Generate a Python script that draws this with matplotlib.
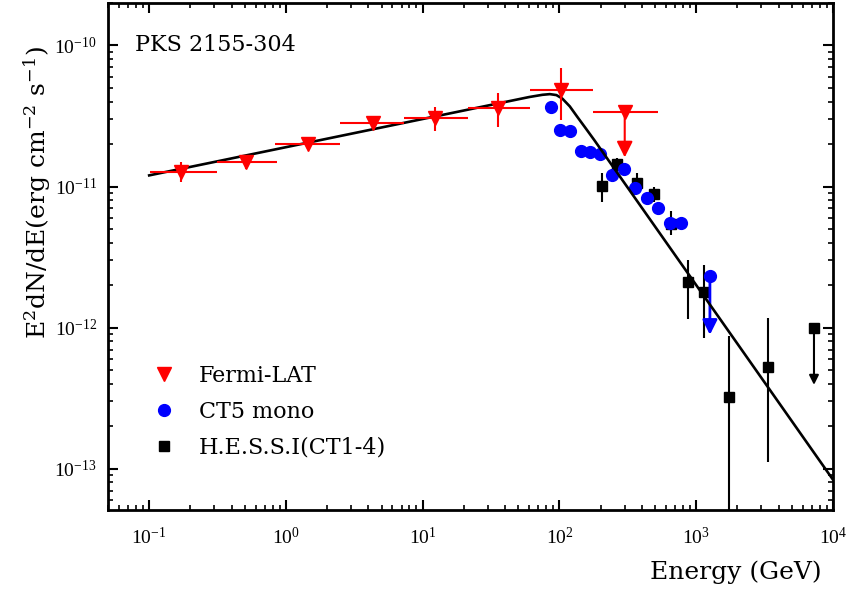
import matplotlib
matplotlib.use('Agg')
import matplotlib.pyplot as plt
from matplotlib.ticker import LogLocator, NullFormatter, FixedLocator
from matplotlib.lines import Line2D

plt.rcParams['font.family'] = ['DejaVu Serif', 'Noto Sans CJK SC']
plt.rcParams['mathtext.fontset'] = 'custom'
plt.rcParams['mathtext.rm'] = 'DejaVu Serif'
plt.rcParams['mathtext.it'] = 'DejaVu Serif:italic'

# Fermi-LAT (GeV, erg cm-2 s-1)
fermi_e = [0.171, 0.51, 1.46, 4.3, 12.4, 35.3, 103]
fermi_elo = [0.102, 0.315, 0.836, 2.5, 7.36, 21.3, 60.5]
fermi_ehi = [0.315, 0.865, 2.5, 7.36, 21.3, 60.5, 175]
fermi_f = [1.27e-11, 1.49e-11, 1.99e-11, 2.82e-11, 3.04e-11, 3.58e-11, 4.81e-11]
fermi_flo = [1.07e-11, 1.34e-11, 1.85e-11, 2.65e-11, 2.46e-11, 2.63e-11, 2.95e-11]
fermi_fhi = [1.49e-11, 1.58e-11, 2.15e-11, 2.95e-11, 3.64e-11, 4.6e-11, 6.98e-11]
# Fermi upper limit
fermi_ul_e, fermi_ul_elo, fermi_ul_ehi = 300, 175, 524
fermi_ul_f, fermi_ul_tip = 3.37e-11, 1.61e-11

# CT5 mono
ct5_e = [87.3, 100.4, 118.9, 143, 168, 199, 242, 296, 359, 433, 521, 641, 768]
ct5_f = [3.66e-11, 2.53e-11, 2.47e-11, 1.79e-11, 1.76e-11, 1.71e-11, 1.20e-11,
         1.34e-11, 9.84e-12, 8.3e-12, 7.1e-12, 5.52e-12, 5.52e-12]
ct5_ul_e, ct5_ul_f, ct5_ul_tip = 1259, 2.32e-12, 8.9e-13

# H.E.S.S. I (CT1-4)
hess_e = [205, 264, 366, 489, 659, 873, 1143, 1741, 3360]
hess_f = [1.01e-11, 1.44e-11, 1.06e-11, 8.83e-12, 5.47e-12, 2.09e-12, 1.8e-12, 3.21e-13, 5.24e-13]
hess_flo = [7.78e-12, 1.28e-11, 9.1e-12, 7.78e-12, 4.52e-12, 1.16e-12, 8.5e-13, 1e-15, 1.11e-13]
hess_fhi = [1.25e-11, 1.6e-11, 1.25e-11, 1.0e-11, 6.68e-12, 3.04e-12, 2.77e-12, 8.7e-13, 1.18e-12]
hess_ul_e, hess_ul_f, hess_ul_tip = 7260, 9.9e-13, 3.93e-13

# model curve
model_e = [0.1, 60, 75, 85, 95, 105, 119, 135, 155, 180, 1e4]
model_f = [1.2e-11, 4.31e-11, 4.47e-11, 4.52e-11, 4.45e-11, 4.2e-11, 3.7e-11,
           3.12e-11, 2.6e-11, 2.13e-11, 8.36e-14]

fig = plt.figure(figsize=(8.5, 5.9), dpi=100)
ax = fig.add_axes([108/850, 1-510/590, 725/850, 507/590])

# H.E.S.S.
yerr = [[f - lo for f, lo in zip(hess_f, hess_flo)], [hi - f for f, hi in zip(hess_f, hess_fhi)]]
ax.errorbar(hess_e, hess_f, yerr=yerr, fmt='s', color='black', ms=7.5, elinewidth=1.5, capsize=0, zorder=3)
ax.plot([hess_ul_e], [hess_ul_f], 's', color='black', ms=7.5, zorder=3)
ax.annotate('', xy=(hess_ul_e, hess_ul_tip), xytext=(hess_ul_e, hess_ul_f),
            arrowprops=dict(arrowstyle='-|>', color='black', lw=1.5, mutation_scale=14,
                            shrinkA=0, shrinkB=0), zorder=3)

# CT5
ax.plot(ct5_e, ct5_f, 'o', color='#0000ff', ms=8.5, zorder=4)
ax.plot([ct5_ul_e], [ct5_ul_f], 'o', color='#0000ff', ms=8.5, zorder=4)
ax.annotate('', xy=(ct5_ul_e, ct5_ul_tip), xytext=(ct5_ul_e, ct5_ul_f),
            arrowprops=dict(arrowstyle='-|>', color='#0000ff', lw=2, mutation_scale=22,
                            shrinkA=0, shrinkB=0), zorder=4)

# model
ax.plot(model_e, model_f, color='black', lw=1.9, zorder=5)

# Fermi
xerr = [[e - lo for e, lo in zip(fermi_e, fermi_elo)], [hi - e for e, hi in zip(fermi_e, fermi_ehi)]]
yerr = [[f - lo for f, lo in zip(fermi_f, fermi_flo)], [hi - f for f, hi in zip(fermi_f, fermi_fhi)]]
ax.errorbar(fermi_e, fermi_f, xerr=xerr, yerr=yerr, fmt='v', color='#ff0000', ms=10,
            elinewidth=1.5, capsize=0, zorder=6)
ax.errorbar([fermi_ul_e], [fermi_ul_f],
            xerr=[[fermi_ul_e - fermi_ul_elo], [fermi_ul_ehi - fermi_ul_e]],
            fmt='v', color='#ff0000', ms=10, elinewidth=1.5, capsize=0, zorder=6)
ax.annotate('', xy=(fermi_ul_e, fermi_ul_tip), xytext=(fermi_ul_e, fermi_ul_f),
            arrowprops=dict(arrowstyle='-|>', color='#ff0000', lw=1.5, mutation_scale=24,
                            shrinkA=0, shrinkB=0), zorder=6)

ax.set_xscale('log')
ax.set_yscale('log')
ax.set_xlim(0.05, 1e4)
ax.set_ylim(5.1e-14, 2e-10)

ax.xaxis.set_major_locator(FixedLocator([1e-1, 1, 10, 100, 1e3, 1e4]))
ax.xaxis.set_minor_locator(LogLocator(base=10, subs=range(2, 10), numticks=20))
ax.yaxis.set_major_locator(FixedLocator([1e-13, 1e-12, 1e-11, 1e-10]))
ax.yaxis.set_minor_locator(LogLocator(base=10, subs=range(2, 10), numticks=20))
ax.xaxis.set_minor_formatter(NullFormatter())
ax.yaxis.set_minor_formatter(NullFormatter())

ax.tick_params(which='both', direction='in', top=True, right=True, labelsize=14,
               labelfontfamily='Liberation Serif')
ax.tick_params(which='major', length=7, width=1.5)
ax.tick_params(axis='x', which='major', pad=12)
ax.tick_params(axis='y', which='major', pad=8)
ax.tick_params(which='minor', length=3.5, width=1.2)
for s in ax.spines.values():
    s.set_linewidth(2)

ax.text(0.037, 0.917, 'PKS 2155-304', transform=ax.transAxes, fontsize=16, va='center', ha='left')

handles = [
    Line2D([], [], marker='v', color='#ff0000', ls='none', ms=10),
    Line2D([], [], marker='o', color='#0000ff', ls='none', ms=8.5),
    Line2D([], [], marker='s', color='black', ls='none', ms=7.5),
]
labels = ['Fermi-LAT', 'CT5 mono', 'H.E.S.S.I(CT1-4)']
ax.legend(handles, labels, loc='upper left', bbox_to_anchor=(0.027, 0.325), frameon=False,
          fontsize=16, labelspacing=0.62, handletextpad=0.8, handlelength=1.5)

fig.text(37/850, 1-193/590, 'E$^2$dN/dE(erg cm$^{-2}$ s$^{-1}$)', rotation=90,
         ha='center', va='center', fontsize=18)
fig.text(822/850, 1-572/590, 'Energy (GeV)', ha='right', va='center', fontsize=18)

fig.savefig('out.png', dpi=100)
